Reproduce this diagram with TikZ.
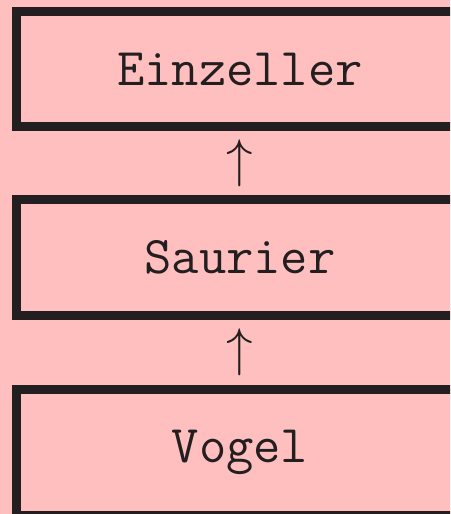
\RequirePackage{fix-cm}
\documentclass[tikz,border=0pt]{standalone}
\usepackage{xcolor}
\usepackage{tikz}
\usetikzlibrary{positioning}
\definecolor{StufeFill}{RGB}{255,191,191}
\definecolor{StufeDraw}{RGB}{35,31,32}
\tikzset{
    stufebox/.style={rectangle, minimum width=447pt, inner ysep=41pt,
        text centered, draw=StufeDraw, line width=9pt, fill=StufeFill,
        text=StufeDraw, font=\fontsize{53}{60}\selectfont\ttfamily},
    pfeilnode/.style={inner sep=8.5pt, text=StufeDraw,
        font=\fontsize{53}{60}\selectfont},
}

\begin{document}
\begin{tikzpicture}[x=1pt, y=1pt]
    \useasboundingbox (0,0) rectangle (450,-514);
    \clip (0,0) rectangle (450,-514);
    \fill[StufeFill] (0,0) rectangle (450,-514);

    \node[stufebox] (einzeller) at (240,-69) {Einzeller};
    \node[pfeilnode, below=0pt of einzeller] (pfeilA) {$\uparrow$};
    \node[stufebox, below=0pt of pfeilA] (saurier) {Saurier};
    \node[pfeilnode, below=0pt of saurier] (pfeilB) {$\uparrow$};
    \node[stufebox, below=0pt of pfeilB] (vogel) {Vogel};
\end{tikzpicture}
\end{document}
